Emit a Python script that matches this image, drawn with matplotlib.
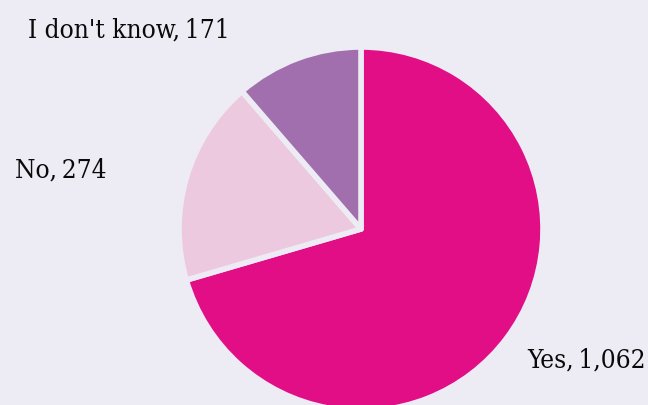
import matplotlib.pyplot as plt

# Survey answers
labels = ["Yes", "No", "I don't know"]
counts = [1062, 274, 171]
colors = ["#E10E86", "#EDC9E0", "#A26FAE"]
bg = "#EDECF5"

fig = plt.figure(figsize=(6.48, 4.05), dpi=100, facecolor=bg)
ax = fig.add_axes([0, 0, 1, 1])
ax.set_facecolor(bg)

ax.pie(counts, colors=colors, startangle=90, counterclock=False, radius=1,
       wedgeprops=dict(edgecolor=bg, linewidth=4, joinstyle="round"))

# pie centre at about (361, 229) px, radius ~182 px
scale = 182
ax.set_xlim(-361 / scale, (648 - 361) / scale)
ax.set_ylim(-(405 - 229) / scale, 229 / scale)
ax.set_aspect("auto")
ax.axis("off")

font = dict(family=["DejaVu Serif"], fontstretch="condensed", fontsize=18.8,
            color="#0a0a0a", va="center")
txt = [f"{l},\u2009{c:,}" for l, c in zip(labels, counts)]
fig.text(527 / 648, 1 - 360 / 405, txt[0], ha="left", **font)
fig.text(15 / 648, 1 - 170 / 405, txt[1], ha="left", **font)
fig.text(28 / 648, 1 - 30 / 405, txt[2], ha="left", **font)

fig.savefig("out.png", dpi=100, facecolor=bg)
